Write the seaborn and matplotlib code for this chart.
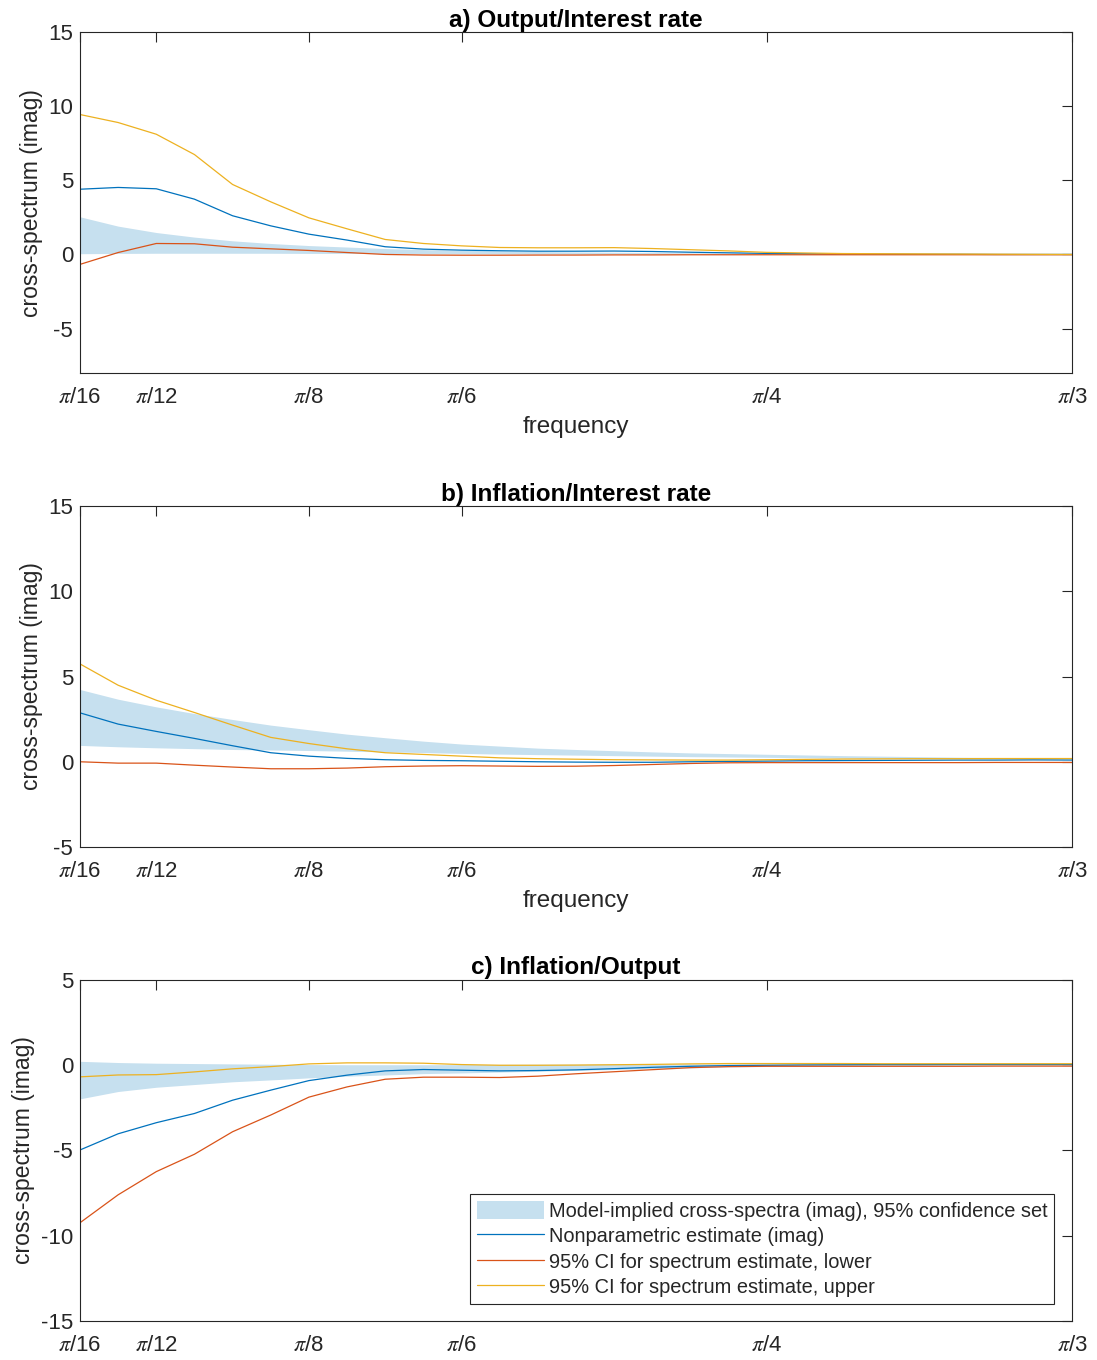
import numpy as np
import pandas as pd
import matplotlib.pyplot as plt
import seaborn as sns

sns.set_style("white")
plt.rcParams['font.family'] = ['Liberation Sans', 'DejaVu Sans']
plt.rcParams['mathtext.fontset'] = 'stix'
plt.rcParams['axes.unicode_minus'] = False

# frequency grid: k*pi/96, k = 6..32  (pi/16 .. pi/3)
k = [6, 7, 8, 9, 10, 11, 12, 13, 14, 15, 16, 17, 18, 19, 20, 21, 22, 23, 24, 25, 26, 27, 28, 29, 30, 31, 32]
freq = np.array(k) * np.pi / 96

tick_pos = [np.pi / 16, np.pi / 12, np.pi / 8, np.pi / 6, np.pi / 4, np.pi / 3]
tick_lab = [r'$\pi$/16', r'$\pi$/12', r'$\pi$/8', r'$\pi$/6', r'$\pi$/4', r'$\pi$/3']

# a) Output/Interest rate
a_est = [4.40, 4.52, 4.43, 3.73, 2.61, 1.93, 1.37, 0.97, 0.52, 0.36, 0.29, 0.25, 0.22, 0.22,
         0.23, 0.20, 0.15, 0.11, 0.07, 0.05, 0.03, 0.02, 0.01, 0.01, 0.0, 0.0, 0.0]
a_lo = [-0.67, 0.13, 0.74, 0.72, 0.49, 0.38, 0.27, 0.13, 0.0, -0.04, -0.05, -0.05, -0.04, -0.04,
        -0.03, -0.03, -0.02, -0.02, -0.02, -0.02, -0.02, -0.02, -0.02, -0.02, -0.02, -0.02, -0.02]
a_hi = [9.44, 8.90, 8.11, 6.74, 4.72, 3.55, 2.47, 1.73, 1.01, 0.74, 0.58, 0.47, 0.45, 0.45,
        0.46, 0.40, 0.32, 0.24, 0.14, 0.10, 0.06, 0.05, 0.04, 0.03, 0.02, 0.01, 0.0]
a_band_hi = [2.54, 1.91, 1.48, 1.17, 0.92, 0.74, 0.60, 0.50, 0.40, 0.33, 0.28, 0.24, 0.20, 0.17,
             0.15, 0.13, 0.11, 0.09, 0.08, 0.07, 0.06, 0.05, 0.04, 0.03, 0.03, 0.02, 0.02]
a_band_lo = [0.05, 0.07, 0.08, 0.08, 0.08, 0.08, 0.07, 0.07, 0.06, 0.05, 0.05, 0.04, 0.04, 0.03,
             0.03, 0.02, 0.02, 0.02, 0.01, 0.01, 0.01, 0.01, 0.0, 0.0, 0.0, 0.0, 0.0]

# b) Inflation/Interest rate
b_est = [2.87, 2.21, 1.78, 1.37, 0.94, 0.53, 0.33, 0.20, 0.12, 0.08, 0.06, 0.03, 0.0, -0.02,
         -0.03, -0.03, 0.0, 0.02, 0.04, 0.06, 0.07, 0.08, 0.09, 0.10, 0.10, 0.11, 0.10]
b_lo = [0.0, -0.08, -0.08, -0.20, -0.31, -0.41, -0.41, -0.37, -0.29, -0.25, -0.23, -0.25, -0.27, -0.26,
        -0.22, -0.16, -0.10, -0.06, -0.05, -0.05, -0.05, -0.05, -0.05, -0.05, -0.04, -0.04, -0.04]
b_hi = [5.74, 4.49, 3.61, 2.89, 2.15, 1.43, 1.07, 0.76, 0.53, 0.43, 0.33, 0.23, 0.18, 0.15,
        0.12, 0.11, 0.10, 0.10, 0.12, 0.14, 0.16, 0.17, 0.18, 0.18, 0.19, 0.19, 0.19]
b_band_hi = [4.24, 3.67, 3.22, 2.83, 2.48, 2.15, 1.88, 1.62, 1.41, 1.21, 1.04, 0.92, 0.80, 0.72,
             0.65, 0.58, 0.52, 0.48, 0.44, 0.40, 0.36, 0.33, 0.30, 0.27, 0.25, 0.23, 0.21]
b_band_lo = [0.96, 0.88, 0.82, 0.77, 0.72, 0.69, 0.66, 0.62, 0.58, 0.54, 0.49, 0.45, 0.42, 0.39,
             0.36, 0.33, 0.30, 0.28, 0.26, 0.24, 0.22, 0.21, 0.20, 0.19, 0.18, 0.17, 0.16]

# c) Inflation/Output
c_est = [-4.97, -4.02, -3.37, -2.83, -2.05, -1.46, -0.90, -0.58, -0.33, -0.25, -0.29, -0.33, -0.31, -0.27,
         -0.20, -0.12, -0.06, -0.02, 0.0, 0.02, 0.03, 0.04, 0.04, 0.05, 0.05, 0.05, 0.05]
c_lo = [-9.24, -7.60, -6.24, -5.22, -3.90, -2.92, -1.87, -1.27, -0.82, -0.70, -0.70, -0.72, -0.64, -0.50,
        -0.38, -0.26, -0.14, -0.08, -0.06, -0.06, -0.06, -0.06, -0.06, -0.06, -0.05, -0.05, -0.05]
c_hi = [-0.68, -0.57, -0.55, -0.39, -0.21, -0.08, 0.08, 0.14, 0.14, 0.12, 0.04, 0.0, 0.0, 0.01,
        0.03, 0.05, 0.08, 0.10, 0.10, 0.10, 0.10, 0.09, 0.09, 0.09, 0.09, 0.09, 0.09]
c_band_hi = [0.23, 0.16, 0.12, 0.10, 0.08, 0.06, 0.04, 0.03, 0.03, 0.03, 0.04, 0.05, 0.06, 0.06,
             0.07, 0.08, 0.08, 0.08, 0.08, 0.08, 0.08, 0.08, 0.08, 0.08, 0.08, 0.08, 0.08]
c_band_lo = [-1.97, -1.54, -1.29, -1.13, -0.97, -0.86, -0.74, -0.64, -0.57, -0.49, -0.45, -0.40, -0.35, -0.30,
             -0.25, -0.20, -0.15, -0.10, -0.07, -0.05, -0.04, -0.03, -0.02, -0.02, -0.01, -0.01, -0.01]

panels = [
    ('a) Output/Interest rate', a_est, a_lo, a_hi, a_band_lo, a_band_hi, (-8, 15), [-5, 0, 5, 10, 15]),
    ('b) Inflation/Interest rate', b_est, b_lo, b_hi, b_band_lo, b_band_hi, (-5, 15), [-5, 0, 5, 10, 15]),
    ('c) Inflation/Output', c_est, c_lo, c_hi, c_band_lo, c_band_hi, (-15, 5), [-15, -10, -5, 0, 5]),
]

blue, red, yellow, band = '#0072BD', '#D95319', '#EDB120', '#c6e0ef'
labels = ['Model-implied cross-spectra (imag), 95% confidence set',
          'Nonparametric estimate (imag)',
          '95% CI for spectrum estimate, lower',
          '95% CI for spectrum estimate, upper']

fig = plt.figure(figsize=(10.97, 13.6), dpi=100)
bottoms = [0.7257, 0.3772, 0.0287]

for i, (title, est, lo, hi, blo, bhi, ylim, yt) in enumerate(panels):
    ax = fig.add_axes([0.0729, bottoms[i], 0.9043, 0.2507])
    ax.fill_between(freq, blo, bhi, color=band, linewidth=0, label=labels[0])
    df = pd.DataFrame({'freq': freq, 'est': est, 'lo': lo, 'hi': hi})
    sns.lineplot(data=df, x='freq', y='est', color=blue, linewidth=0.9, ax=ax, label=labels[1])
    sns.lineplot(data=df, x='freq', y='lo', color=red, linewidth=0.9, ax=ax, label=labels[2])
    sns.lineplot(data=df, x='freq', y='hi', color=yellow, linewidth=0.9, ax=ax, label=labels[3])

    ax.set_xlim(np.pi / 16, np.pi / 3)
    ax.set_ylim(*ylim)
    ax.set_xticks(tick_pos)
    ax.set_xticklabels(tick_lab)
    ax.set_yticks(yt)
    ax.tick_params(direction='in', length=7, width=0.8, colors='#262626', labelsize=16,
                   top=True, right=True)
    ax.tick_params(axis='x', pad=10)
    ax.tick_params(axis='y', pad=5)
    for s in ax.spines.values():
        s.set_color('#262626')
        s.set_linewidth(0.8)
    ax.set_title(title, fontsize=17.5, fontweight='bold', color='black', pad=4)
    ax.set_ylabel('cross-spectrum (imag)', fontsize=16.5, color='#262626', labelpad=4)
    if i < 2:
        ax.set_xlabel('frequency', fontsize=17.5, color='#262626', labelpad=6)
        ax.get_legend().remove()
    else:
        ax.set_xlabel('')
        leg = ax.legend(loc='lower right', bbox_to_anchor=(0.982, 0.05), fontsize=14.4,
                        frameon=True, fancybox=False, framealpha=1, edgecolor='#262626',
                        handlelength=3.35, handleheight=1.0, handletextpad=0.25, borderpad=0.35,
                        labelspacing=0.28, borderaxespad=0)
        leg.get_frame().set_linewidth(0.8)
        for t in leg.get_texts():
            t.set_color('#262626')

fig.savefig('out.png', dpi=100)
